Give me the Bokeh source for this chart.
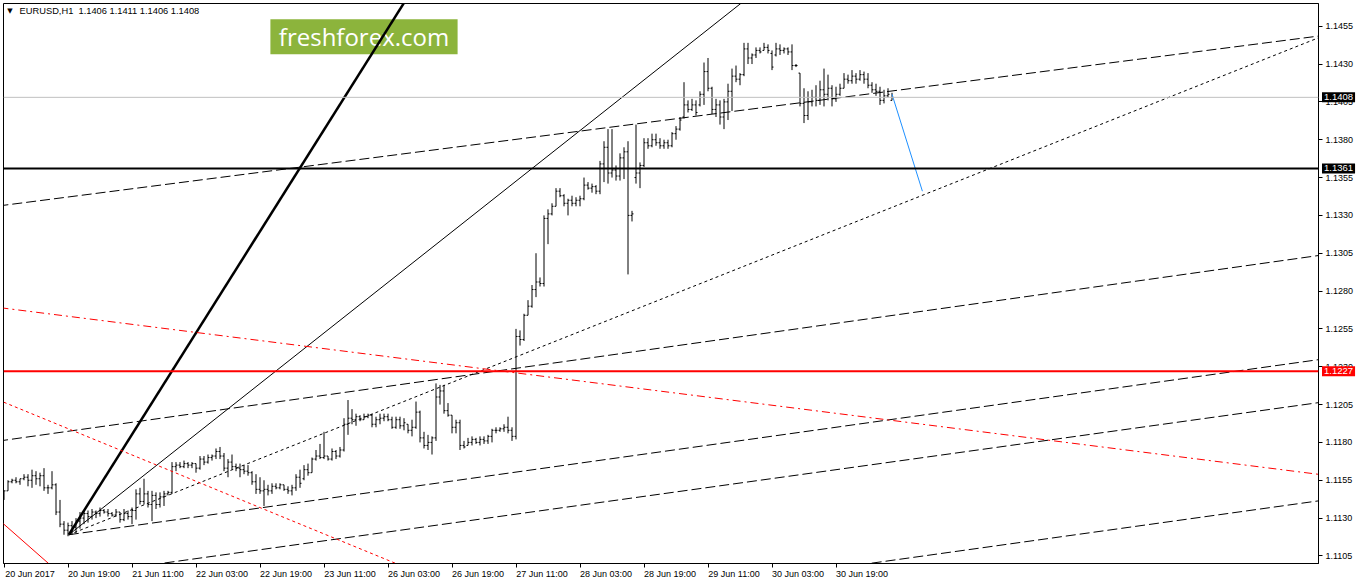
from bokeh.plotting import figure
from bokeh.layouts import column
from bokeh.models import (Range1d, LinearAxis, FixedTicker, PrintfTickFormatter,
                          Label, Span, BoxAnnotation, ColumnDataSource)
from bokeh.embed import file_html
from bokeh.resources import INLINE

# ---------------- data: EURUSD H1 bars (bar index 0 = 20 Jun 2017 03:00) ----------------
OPEN = [1.1146,1.1148,1.1154,1.1155,1.1154,1.1156,1.1157,1.1155,1.1158,1.1156,
        1.1158,1.1150,1.1150,1.1152,1.1134,1.1126,1.1122,1.1125,1.1124,1.1128,
        1.1130,1.1133,1.1131,1.1134,1.1133,1.1135,1.1134,1.1133,1.1132,1.1134,
        1.1129,1.1133,1.1131,1.1135,1.1146,1.1141,1.1146,1.1139,1.1145,1.1139,
        1.1144,1.1146,1.1147,1.1164,1.1165,1.1164,1.1166,1.1165,1.1166,1.1163,
        1.1169,1.1167,1.1170,1.1171,1.1174,1.1171,1.1163,1.1167,1.1164,1.1163,
        1.1162,1.1161,1.1160,1.1154,1.1149,1.1148,1.1149,1.1148,1.1151,1.1150,
        1.1152,1.1149,1.1148,1.1150,1.1157,1.1156,1.1162,1.1160,1.1169,1.1171,
        1.1170,1.1171,1.1169,1.1174,1.1171,1.1175,1.1192,1.1196,1.1195,1.1197,
        1.1195,1.1197,1.1198,1.1192,1.1195,1.1196,1.1197,1.1195,1.1190,1.1195,
        1.1191,1.1192,1.1188,1.1190,1.1200,1.1183,1.1178,1.1180,1.1183,1.1210,
        1.1214,1.1201,1.1198,1.1190,1.1193,1.1178,1.1178,1.1180,1.1182,1.1180,
        1.1182,1.1181,1.1184,1.1188,1.1188,1.1189,1.1190,1.1188,1.1184,1.1250,
        1.1248,1.1264,1.1270,1.1281,1.1286,1.1285,1.1328,1.1331,1.1336,1.1346,
        1.1343,1.1338,1.1340,1.1338,1.1340,1.1341,1.1350,1.1348,1.1349,1.1346,
        1.1364,1.1375,1.1358,1.1360,1.1356,1.1368,1.1372,1.1330,1.1355,1.1358,
        1.1363,1.1378,1.1376,1.1380,1.1378,1.1376,1.1378,1.1376,1.1384,1.1387,
        1.1395,1.1403,1.1400,1.1403,1.1403,1.1410,1.1425,1.1414,1.1400,1.1403,
        1.1395,1.1405,1.1412,1.1422,1.1420,1.1423,1.1440,1.1434,1.1436,1.1439,
        1.1439,1.1441,1.1437,1.1436,1.1440,1.1439,1.1440,1.1438,1.1429,1.1424,
        1.1404,1.1396,1.1405,1.1408,1.1406,1.1413,1.1410,1.1414,1.1407,1.1410,
        1.1414,1.1420,1.1419,1.1422,1.1420,1.1423,1.1420,1.1416,1.1413,1.1412,
        1.1406,1.1409,1.1406]
HIGH = [1.1148,1.1155,1.1156,1.1157,1.1156,1.1159,1.1159,1.1162,1.1161,1.1160,
        1.1163,1.1152,1.1161,1.1153,1.1142,1.1128,1.1127,1.1128,1.1130,1.1134,
        1.1135,1.1135,1.1136,1.1135,1.1137,1.1136,1.1136,1.1134,1.1136,1.1134,
        1.1136,1.1135,1.1137,1.1149,1.1150,1.1156,1.1148,1.1148,1.1147,1.1147,
        1.1148,1.1148,1.1167,1.1167,1.1167,1.1168,1.1167,1.1167,1.1166,1.1171,
        1.1171,1.1172,1.1172,1.1176,1.1177,1.1173,1.1169,1.1172,1.1166,1.1166,
        1.1165,1.1165,1.1161,1.1159,1.1157,1.1155,1.1152,1.1153,1.1153,1.1153,
        1.1152,1.1151,1.1152,1.1159,1.1162,1.1165,1.1166,1.1170,1.1175,1.1179,
        1.1187,1.1171,1.1176,1.1175,1.1177,1.1196,1.1208,1.1202,1.1199,1.1198,
        1.1199,1.1199,1.1199,1.1197,1.1199,1.1199,1.1199,1.1197,1.1197,1.1197,
        1.1196,1.1192,1.1195,1.1207,1.1201,1.1187,1.1185,1.1184,1.1219,1.1218,
        1.1218,1.1206,1.1198,1.1195,1.1195,1.1181,1.1183,1.1184,1.1183,1.1184,
        1.1184,1.1185,1.1189,1.1190,1.1190,1.1192,1.1197,1.1190,1.1255,1.1254,
        1.1265,1.1274,1.1284,1.1305,1.1289,1.1330,1.1334,1.1338,1.1348,1.1348,
        1.1344,1.1341,1.1343,1.1342,1.1343,1.1355,1.1352,1.1351,1.1350,1.1366,
        1.1379,1.1387,1.1387,1.1363,1.1371,1.1375,1.1379,1.1333,1.1390,1.1365,
        1.1381,1.1381,1.1384,1.1384,1.1381,1.1380,1.1380,1.1385,1.1389,1.1395,
        1.1418,1.1406,1.1407,1.1406,1.1412,1.1431,1.1434,1.1415,1.1407,1.1406,
        1.1407,1.1417,1.1427,1.1429,1.1424,1.1444,1.1444,1.1437,1.1441,1.1441,
        1.1444,1.1443,1.1439,1.1444,1.1443,1.1441,1.1441,1.1443,1.1430,1.1424,
        1.1414,1.1412,1.1413,1.1416,1.1419,1.1427,1.1423,1.1416,1.1415,1.1417,
        1.1424,1.1423,1.1426,1.1424,1.1426,1.1425,1.1424,1.1418,1.1417,1.1415,
        1.1413,1.1414,1.1411]
LOW = [1.1142,1.1148,1.1153,1.1153,1.1152,1.1155,1.1151,1.1150,1.1152,1.1151,
       1.1148,1.1146,1.1149,1.1132,1.1124,1.1119,1.1118,1.1119,1.1120,1.1123,
       1.1126,1.1127,1.1129,1.1130,1.1131,1.1133,1.1131,1.1131,1.1131,1.1127,
       1.1128,1.1129,1.1126,1.1129,1.1139,1.1139,1.1137,1.1128,1.1136,1.1137,
       1.1138,1.1145,1.1146,1.1161,1.1163,1.1163,1.1163,1.1163,1.1160,1.1162,
       1.1165,1.1166,1.1168,1.1169,1.1169,1.1161,1.1157,1.1162,1.1161,1.1157,
       1.1159,1.1158,1.1152,1.1146,1.1146,1.1138,1.1145,1.1146,1.1149,1.1149,
       1.1148,1.1146,1.1145,1.1148,1.1150,1.1155,1.1158,1.1160,1.1168,1.1169,
       1.1169,1.1168,1.1168,1.1169,1.1170,1.1174,1.1185,1.1192,1.1191,1.1194,
       1.1195,1.1196,1.1190,1.1190,1.1192,1.1194,1.1194,1.1189,1.1189,1.1189,
       1.1188,1.1186,1.1184,1.1189,1.1180,1.1176,1.1175,1.1172,1.1181,1.1205,
       1.1199,1.1197,1.1186,1.1186,1.1175,1.1176,1.1178,1.1178,1.1179,1.1178,
       1.1179,1.1179,1.1180,1.1186,1.1187,1.1187,1.1186,1.1181,1.1182,1.1244,
       1.1247,1.1264,1.1269,1.1276,1.1283,1.1283,1.1311,1.1330,1.1336,1.1342,
       1.1336,1.1330,1.1336,1.1336,1.1336,1.1340,1.1347,1.1345,1.1344,1.1344,
       1.1352,1.1351,1.1355,1.1353,1.1353,1.1354,1.1291,1.1326,1.1351,1.1348,
       1.1362,1.1374,1.1375,1.1376,1.1374,1.1374,1.1374,1.1375,1.1380,1.1386,
       1.1394,1.1398,1.1399,1.1396,1.1402,1.1403,1.1412,1.1397,1.1395,1.1390,
       1.1387,1.1393,1.1399,1.1418,1.1416,1.1422,1.1430,1.1430,1.1434,1.1437,
       1.1439,1.1437,1.1426,1.1435,1.1436,1.1437,1.1436,1.1426,1.1428,1.1402,
       1.1391,1.1393,1.1402,1.1402,1.1403,1.1402,1.1406,1.1402,1.1405,1.1409,
       1.1414,1.1417,1.1417,1.1417,1.1419,1.1417,1.1414,1.1411,1.1409,1.1403,
       1.1404,1.1408,1.1406]
CLOSE = [1.1148,1.1154,1.1155,1.1154,1.1156,1.1157,1.1155,1.1158,1.1156,1.1158,
         1.1150,1.1150,1.1152,1.1134,1.1126,1.1122,1.1125,1.1124,1.1128,1.1130,
         1.1133,1.1131,1.1134,1.1133,1.1135,1.1134,1.1133,1.1132,1.1134,1.1129,
         1.1133,1.1131,1.1135,1.1146,1.1141,1.1146,1.1139,1.1145,1.1139,1.1144,
         1.1146,1.1147,1.1164,1.1165,1.1164,1.1166,1.1165,1.1166,1.1163,1.1169,
         1.1167,1.1170,1.1171,1.1174,1.1171,1.1163,1.1167,1.1164,1.1163,1.1162,
         1.1161,1.1160,1.1154,1.1149,1.1148,1.1149,1.1148,1.1151,1.1150,1.1152,
         1.1149,1.1148,1.1150,1.1157,1.1153,1.1162,1.1160,1.1169,1.1171,1.1170,
         1.1171,1.1169,1.1174,1.1171,1.1175,1.1192,1.1196,1.1195,1.1197,1.1195,
         1.1197,1.1198,1.1192,1.1195,1.1196,1.1197,1.1195,1.1190,1.1195,1.1191,
         1.1193,1.1188,1.1190,1.1200,1.1183,1.1178,1.1180,1.1183,1.1210,1.1214,
         1.1201,1.1198,1.1190,1.1193,1.1178,1.1177,1.1180,1.1182,1.1180,1.1182,
         1.1181,1.1184,1.1188,1.1188,1.1189,1.1190,1.1188,1.1184,1.1250,1.1248,
         1.1264,1.1270,1.1281,1.1286,1.1285,1.1328,1.1331,1.1336,1.1346,1.1343,
         1.1338,1.1340,1.1338,1.1340,1.1341,1.1350,1.1348,1.1349,1.1346,1.1364,
         1.1375,1.1358,1.1360,1.1356,1.1368,1.1372,1.1330,1.1331,1.1358,1.1363,
         1.1378,1.1376,1.1380,1.1378,1.1376,1.1378,1.1376,1.1384,1.1387,1.1393,
         1.1403,1.1400,1.1403,1.1398,1.1410,1.1425,1.1414,1.1400,1.1403,1.1395,
         1.1405,1.1412,1.1422,1.1420,1.1423,1.1440,1.1434,1.1436,1.1439,1.1438,
         1.1441,1.1439,1.1428,1.1440,1.1439,1.1440,1.1438,1.1429,1.1429,1.1404,
         1.1396,1.1405,1.1408,1.1406,1.1413,1.1410,1.1414,1.1407,1.1410,1.1414,
         1.1420,1.1419,1.1422,1.1420,1.1423,1.1420,1.1416,1.1413,1.1412,1.1406,
         1.1409,1.1410,1.1408]

TICK_BARS = [0, 16, 32, 48, 64, 80, 96, 112, 128, 144, 160, 176, 192, 208]
TICK_LABELS = ["20 Jun 2017", "20 Jun 19:00", "21 Jun 11:00", "22 Jun 03:00",
               "22 Jun 19:00", "23 Jun 11:00", "26 Jun 03:00", "26 Jun 19:00",
               "27 Jun 11:00", "28 Jun 03:00", "28 Jun 19:00", "29 Jun 11:00",
               "30 Jun 03:00", "30 Jun 19:00"]
PRICE_TICKS = [1.1105, 1.1130, 1.1155, 1.1180, 1.1205, 1.1230, 1.1255, 1.1280,
               1.1305, 1.1330, 1.1355, 1.1380, 1.1405, 1.1430, 1.1455]

BID = 1.1408
LEVEL_BLACK = 1.1361
LEVEL_RED = 1.1227
PRICE_BOXES = [(BID, "black"), (LEVEL_BLACK, "black"), (LEVEL_RED, "red")]

# trend lines: (bar0, price0, bar1, price1)
THICK_RAY = (16.2, 1.1119, 99.9, 1.1470)
THIN_RAY = (16.2, 1.1119, 153.6, 1.14061)
DOT_RAY = (16.2, 1.1119, 328.4, 1.14471)
DASH_RAY_C = (16.2, 1.1119, 328.4, 1.12346)
DASH_A = (0.0, 1.13367, 328.4, 1.14484)
DASH_B = (0.0, 1.11814, 328.4, 1.13034)
DASH_D = (39.5, 1.11001, 328.4, 1.12062)
DASH_E = (216.6, 1.11001, 328.4, 1.11413)
RED_DASHDOT = (0.0, 1.12687, 328.4, 1.11590)
RED_DOT = (0.0, 1.12065, 97.9, 1.11001)
RED_SOLID = (0.0, 1.11259, 11.1, 1.11001)
BLUE = (222.0, 1.14100, 229.6, 1.13460)

X0, X1 = -0.125, 328.625
Y0, Y1 = 1.1100, 1.1470

p = figure(frame_width=1315, frame_height=560,
           x_range=Range1d(X0, X1), y_range=Range1d(Y0, Y1),
           output_backend="svg", toolbar_location=None,
           y_axis_location="right",
           min_border_left=3, min_border_top=3, min_border_right=40, min_border_bottom=21,
           background_fill_color="white", border_fill_color="white",
           outline_line_color="black", outline_line_width=1)
p.grid.visible = False

FONT = "Liberation Sans"
FS = "9px"

# x axis: tick marks only
xa = p.xaxis[0]
xa.ticker = FixedTicker(ticks=TICK_BARS)
xa.major_label_overrides = {t: "" for t in TICK_BARS}
xa.major_label_text_font_size = "1px"
xa.major_label_standoff = 0
xa.major_tick_out = 4
xa.major_tick_in = 0
xa.minor_tick_line_color = None
xa.axis_line_color = "black"
xa.major_tick_line_color = "black"

# x axis labels, written to the right of each tick as in MT4
LABEL_SHIFT = 6.5
xl = LinearAxis(ticker=FixedTicker(ticks=[t + LABEL_SHIFT for t in TICK_BARS]),
                major_label_overrides={t + LABEL_SHIFT: s for t, s in zip(TICK_BARS, TICK_LABELS)},
                axis_line_color=None, major_tick_line_color=None, minor_tick_line_color=None,
                major_tick_out=0, major_tick_in=0, major_label_standoff=1,
                major_label_text_font=FONT, major_label_text_font_size=FS,
                major_label_text_color="black")
p.add_layout(xl, "below")

ya = p.yaxis[0]
ya.ticker = FixedTicker(ticks=PRICE_TICKS)
ya.formatter = PrintfTickFormatter(format="%.4f")
ya.major_tick_out = 4
ya.major_tick_in = 0
ya.minor_tick_line_color = None
ya.major_label_standoff = 3
ya.major_label_text_font = FONT
ya.major_label_text_font_size = FS
ya.major_label_text_color = "black"
ya.axis_line_color = "black"

# watermark
p.add_layout(BoxAnnotation(left=66.6, right=113.4, top=1.14596, bottom=1.14365,
                           fill_color="#8CB43C", fill_alpha=1.0, line_color=None,
                           level="underlay"))
p.add_layout(Label(x=90.0, y=1.14481, text="freshforex.com", text_color="white",
                   text_font="Open Sans", text_font_size="24px",
                   text_align="center", text_baseline="middle", level="underlay"))

# bid line
p.add_layout(Span(location=BID, dimension="width", line_color="#C0C0C0", line_width=1))

# bars
n = len(OPEN)
t = list(range(n))
src = ColumnDataSource(dict(t=t, tl=[v - 0.375 for v in t], tr=[v + 0.375 for v in t],
                            o=OPEN, h=HIGH, l=LOW, c=CLOSE))
p.segment(x0="t", y0="l", x1="t", y1="h", source=src, line_color="black", line_width=1)
p.segment(x0="tl", y0="o", x1="t", y1="o", source=src, line_color="black", line_width=1)
p.segment(x0="t", y0="c", x1="tr", y1="c", source=src, line_color="black", line_width=1)


def extend(seg, a, b):
    """points of the straight line through the two anchors, from bar a to bar b"""
    t0, p0, t1, p1 = seg
    k = (p1 - p0) / (t1 - t0)
    return [a, b], [p0 + k * (a - t0), p0 + k * (b - t0)]


def ray(seg):
    return extend(seg, seg[0], 400)


def full(seg):
    return extend(seg, -50, 400)


def draw(xy, **kw):
    p.line(xy[0], xy[1], **kw)


draw(full(DASH_A), line_color="black", line_width=1, line_dash="10 4")
draw(full(DASH_B), line_color="black", line_width=1, line_dash="10 4")
draw(ray(DASH_RAY_C), line_color="black", line_width=1, line_dash="10 4")
draw(full(DASH_D), line_color="black", line_width=1, line_dash="10 4")
draw(full(DASH_E), line_color="black", line_width=1, line_dash="10 4")
draw(ray(DOT_RAY), line_color="black", line_width=1, line_dash="3 3")
draw(ray(THIN_RAY), line_color="black", line_width=1)
draw(ray(THICK_RAY), line_color="black", line_width=2.5)
draw(full(RED_DASHDOT), line_color="red", line_width=1, line_dash="8 4 2 4")
draw(full(RED_DOT), line_color="red", line_width=1, line_dash="3 3")
draw(full(RED_SOLID), line_color="red", line_width=1)
draw(([BLUE[0], BLUE[2]], [BLUE[1], BLUE[3]]), line_color="#1E90FF", line_width=1)

p.add_layout(Span(location=LEVEL_BLACK, dimension="width", line_color="black", line_width=2))
p.add_layout(Span(location=LEVEL_RED, dimension="width", line_color="red", line_width=2))

# title
p.add_layout(Label(x=1.5, y=1.14649, text="\u25bc", text_color="black",
                   text_font="DejaVu Sans", text_font_size="7px",
                   text_align="center", text_baseline="middle"))
p.add_layout(Label(x=3.9, y=1.14652,
                   text="EURUSD,H1\u00a0 %.4f %.4f %.4f %.4f" % (OPEN[-1], HIGH[-1], LOW[-1], CLOSE[-1]),
                   text_color="black", text_font=FONT, text_font_size="9.3px",
                   text_align="left", text_baseline="middle"))

# price boxes on the price scale: a transparent strip laid over the axis area,
# sharing the price range of the chart
side = figure(frame_width=40, frame_height=560,
              x_range=Range1d(0, 40), y_range=p.y_range,
              output_backend="svg", toolbar_location=None,
              x_axis_location=None, y_axis_location=None,
              min_border_left=0, min_border_right=0, min_border_top=0, min_border_bottom=0,
              background_fill_alpha=0, border_fill_alpha=0, outline_line_color=None,
              styles={"position": "absolute", "left": "1316px", "top": "3px"})
side.grid.visible = False
for price, bg in PRICE_BOXES:
    side.add_layout(Label(x=2.5, y=price, text="%.4f" % price, text_color="white",
                          background_fill_color=bg, background_fill_alpha=1.0,
                          text_font=FONT, text_font_size="9.5px", padding=2,
                          text_align="left", text_baseline="middle"))

page = column(p, side)
open("out.html", "w").write(file_html(page, INLINE))
